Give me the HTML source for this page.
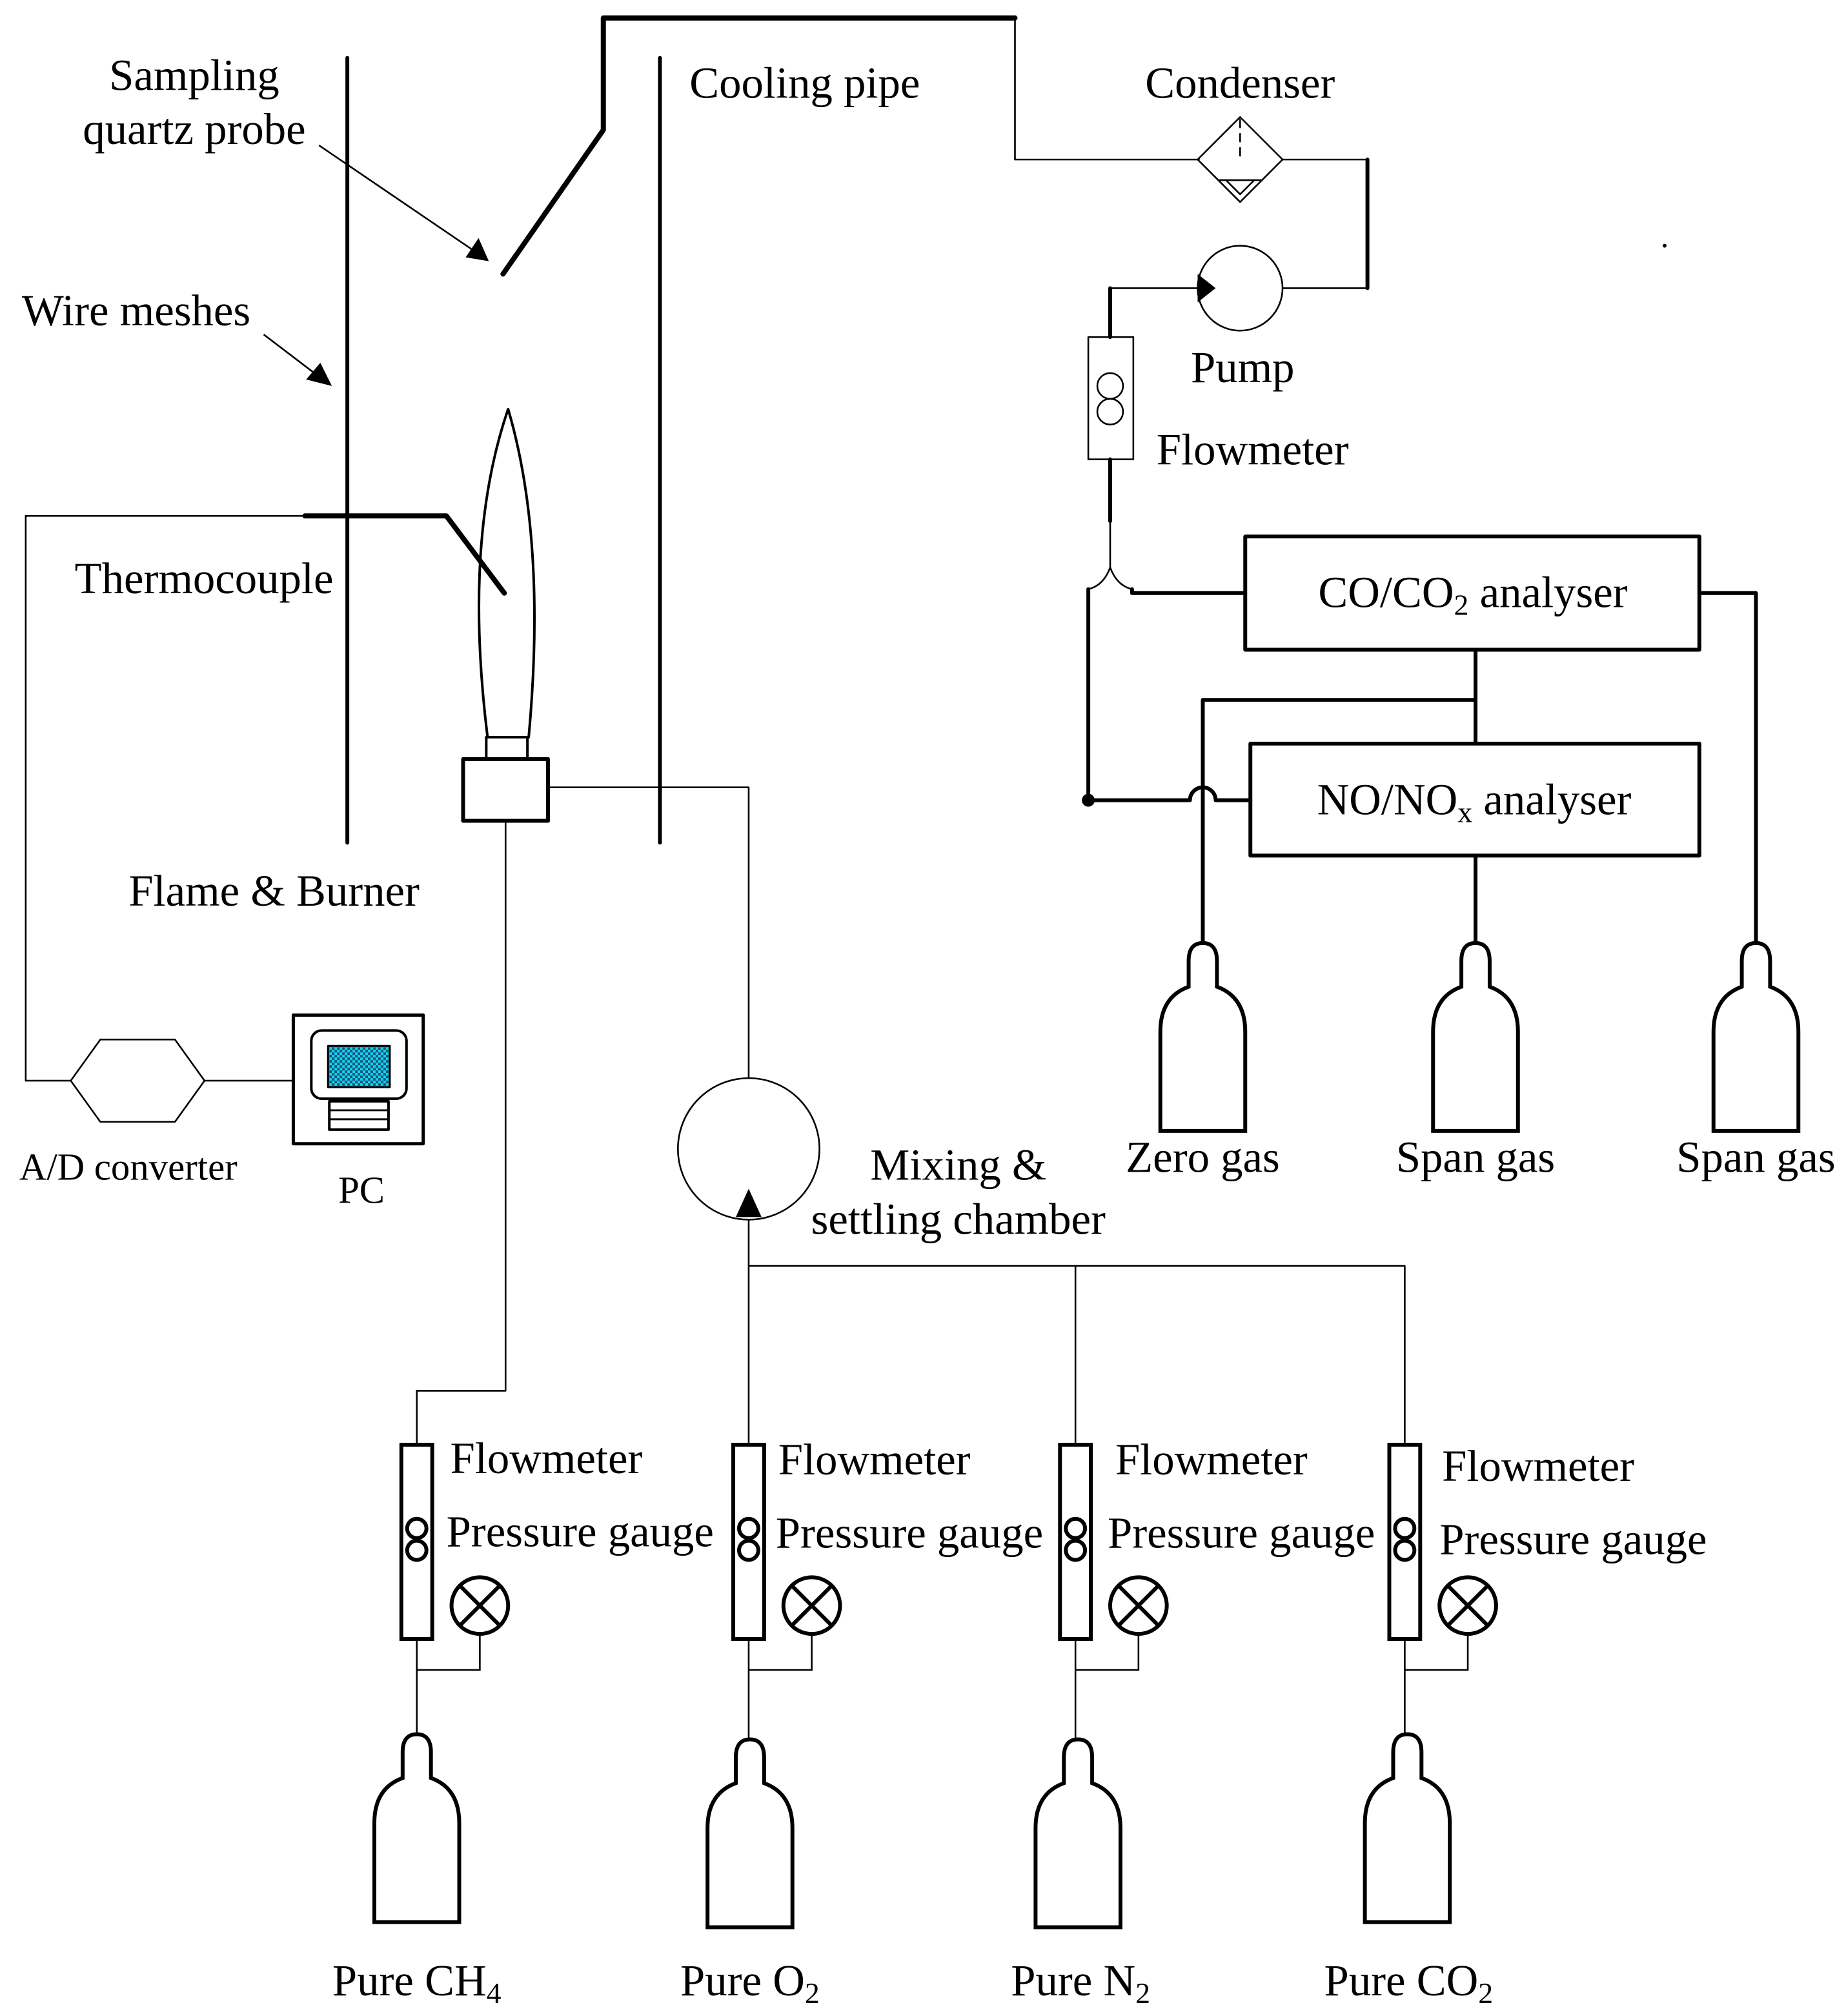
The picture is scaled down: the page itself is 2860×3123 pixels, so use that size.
<!DOCTYPE html>
<html><head><meta charset="utf-8"><style>
html,body{margin:0;padding:0;background:#fff}
svg{display:block}
text{font-family:"Liberation Serif",serif;fill:#000}
</style></head><body>
<svg width="2860" height="3123" viewBox="0 0 1435 1567" preserveAspectRatio="none" xmlns="http://www.w3.org/2000/svg">
<defs>
<pattern id="chk" width="4" height="4" patternUnits="userSpaceOnUse"><rect width="4" height="4" fill="#00e0e0"/><rect width="2" height="2" fill="#2a4a8a"/><rect x="2" y="2" width="2" height="2" fill="#2a4a8a"/></pattern>
<g id="bottle"><path d="M-11,0 Q-11,-14 0,-14 Q11,-14 11,0 L11,20 Q33,28 33,55 L33,132 L-33,132 L-33,55 Q-33,28 -11,20 Z" fill="none" stroke="#000" stroke-width="3"/></g>
<g id="fm"><rect x="-12" y="0" width="24" height="151" fill="none" stroke="#000" stroke-width="3"/><circle cx="0" cy="65" r="7.5" fill="none" stroke="#000" stroke-width="3"/><circle cx="0" cy="82" r="7.5" fill="none" stroke="#000" stroke-width="3"/></g>
<g id="pg"><circle r="22" fill="none" stroke="#000" stroke-width="3"/><path d="M-15,-15 L15,15 M15,-15 L-15,15" stroke="#000" stroke-width="3"/></g>
</defs>
<g fill="none" stroke="#000" stroke-linecap="round" stroke-linejoin="round">
<line x1="270" y1="45" x2="270" y2="655" stroke-width="3"/>
<line x1="513" y1="45" x2="513" y2="655" stroke-width="3"/>
<polyline points="391,213 469,101 469,14 789,14" stroke-width="4"/>
<polyline points="789,14 789,124 932,124" stroke-width="1.3"/>
<polygon points="964,91 997,124 964,157 931,124" stroke-width="1.3"/>
<line x1="964" y1="93" x2="964" y2="121" stroke-width="1.3" stroke-dasharray="6,5"/>
<polyline points="948,140 980,140" stroke-width="1.3"/>
<polyline points="953,140 964,151 975,140" stroke-width="1.3"/>
<line x1="997" y1="124" x2="1063" y2="124" stroke-width="1.3"/>
<line x1="1063" y1="124" x2="1063" y2="224" stroke-width="3"/>
<line x1="1063" y1="224" x2="997" y2="224" stroke-width="1.3"/>
<circle cx="964" cy="224" r="33" stroke-width="1.3"/>
<line x1="931" y1="224" x2="863" y2="224" stroke-width="1.3"/>
<line x1="863" y1="224" x2="863" y2="262" stroke-width="3"/>
<rect x="846" y="262" width="35" height="95" stroke-width="1.3"/>
<circle cx="863" cy="300" r="10" stroke-width="1.3"/>
<circle cx="863" cy="320" r="10" stroke-width="1.3"/>
<line x1="863" y1="357" x2="863" y2="405" stroke-width="3"/>
<line x1="863" y1="405" x2="863" y2="441" stroke-width="1.3"/>
<path d="M863,441 Q858,455 846,458" stroke-width="1.3"/>
<path d="M863,441 Q868,455 880,458" stroke-width="1.3"/>
<polyline points="880,458 880,461 968,461" stroke-width="3"/>
<line x1="846" y1="458" x2="846" y2="622" stroke-width="3"/>
<rect x="968" y="417" width="353" height="88" stroke-width="3"/>
<polyline points="1321,461 1365,461 1365,733" stroke-width="3"/>
<line x1="1147" y1="505" x2="1147" y2="578" stroke-width="3"/>
<polyline points="1147,544 935,544 935,733" stroke-width="3"/>
<path d="M846,622 L925,622 A10,10 0 0 1 945,622 L972,622" stroke-width="3"/>
<rect x="972" y="578" width="349" height="87" stroke-width="3"/>
<line x1="1147" y1="665" x2="1147" y2="733" stroke-width="3"/>
<polyline points="20,401 237,401" stroke-width="1.3"/>
<polyline points="237,401 347,401 392,461" stroke-width="4"/>
<polyline points="20,401 20,840 55,840" stroke-width="1.3"/>
<polygon points="55,840 78,808 136,808 159,840 136,872 78,872" stroke-width="1.3"/>
<line x1="159" y1="840" x2="228" y2="840" stroke-width="1.3"/>
<rect x="228" y="789" width="101" height="100" stroke-width="2.5"/>
<rect x="242" y="801" width="74" height="53" rx="8" stroke-width="2"/>
<rect x="255" y="813" width="48" height="32" fill="url(#chk)" stroke-width="1.5"/>
<rect x="256" y="856" width="46" height="22" stroke-width="2"/>
<line x1="256" y1="863" x2="302" y2="863" stroke-width="1.5"/>
<line x1="256" y1="870" x2="302" y2="870" stroke-width="1.5"/>
<path d="M379,573 Q360,420 395,318 Q425,420 411,573" stroke-width="2"/>
<rect x="378" y="573" width="32" height="17" stroke-width="2"/>
<rect x="360" y="590" width="66" height="48" stroke-width="3"/>
<polyline points="426,612 582,612 582,838" stroke-width="1.3"/>
<circle cx="582" cy="893" r="55" stroke-width="1.3"/>
<polyline points="393,638 393,1081 324,1081 324,1123" stroke-width="1.3"/>
<line x1="582" y1="948" x2="582" y2="1123" stroke-width="1.3"/>
<polyline points="582,984 1092,984 1092,1123" stroke-width="1.3"/>
<line x1="836" y1="984" x2="836" y2="1123" stroke-width="1.3"/>
</g>
<polygon points="380,203 362,200 372,185" fill="#000"/>
<line x1="248" y1="113" x2="370" y2="196" stroke="#000" stroke-width="1.3"/>
<polygon points="258,300 238,295 249,282" fill="#000"/>
<line x1="205" y1="260" x2="247" y2="292" stroke="#000" stroke-width="1.3"/>
<polygon points="931,213 931,235 945,224" fill="#000"/>
<polygon points="582,924 572,946 592,946" fill="#000"/>
<circle cx="846" cy="622" r="5" fill="#000"/>
<circle cx="1294" cy="191" r="1.5" fill="#000"/>
<use href="#bottle" x="935" y="747"/>
<use href="#bottle" x="1147" y="747"/>
<use href="#bottle" x="1365" y="747"/>
<use href="#bottle" x="324" y="1362"/>
<use href="#bottle" x="583" y="1366"/>
<use href="#bottle" x="838" y="1366"/>
<use href="#bottle" x="1094" y="1362"/>
<g fill="none" stroke="#000" stroke-width="1.3">
<polyline points="373,1270 373,1298 324,1298"/><line x1="324" y1="1274" x2="324" y2="1348"/>
<polyline points="631,1270 631,1298 582,1298"/><line x1="582" y1="1274" x2="582" y2="1352"/>
<polyline points="885,1270 885,1298 836,1298"/><line x1="836" y1="1274" x2="836" y2="1352"/>
<polyline points="1141,1270 1141,1298 1092,1298"/><line x1="1092" y1="1274" x2="1092" y2="1348"/>
</g>
<use href="#fm" x="324" y="1123"/><use href="#fm" x="582" y="1123"/><use href="#fm" x="836" y="1123"/><use href="#fm" x="1092" y="1123"/>
<use href="#pg" x="373" y="1248"/><use href="#pg" x="631" y="1248"/><use href="#pg" x="885" y="1248"/><use href="#pg" x="1141" y="1248"/>
<g font-size="34.5">
<text x="151" y="70" text-anchor="middle">Sampling</text>
<text x="151" y="112" text-anchor="middle">quartz probe</text>
<text x="17" y="253">Wire meshes</text>
<text x="536" y="76">Cooling pipe</text>
<text x="964" y="76" text-anchor="middle">Condenser</text>
<text x="966" y="297" text-anchor="middle">Pump</text>
<text x="899" y="361">Flowmeter</text>
<text x="58" y="461">Thermocouple</text>
<text x="100" y="704">Flame &amp; Burner</text>
<text x="1145" y="472" text-anchor="middle">CO/CO<tspan font-size="23" dy="6">2</tspan><tspan dy="-6"> analyser</tspan></text>
<text x="1146" y="633" text-anchor="middle">NO/NO<tspan font-size="23" dy="6">x</tspan><tspan dy="-6"> analyser</tspan></text>
<text x="935" y="911" text-anchor="middle">Zero gas</text>
<text x="1147" y="911" text-anchor="middle">Span gas</text>
<text x="1365" y="911" text-anchor="middle">Span gas</text>
<text x="745" y="917" text-anchor="middle">Mixing &amp;</text>
<text x="745" y="959" text-anchor="middle">settling chamber</text>
<text x="350" y="1145">Flowmeter</text><text x="347" y="1202">Pressure gauge</text>
<text x="605" y="1146">Flowmeter</text><text x="603" y="1203">Pressure gauge</text>
<text x="867" y="1146">Flowmeter</text><text x="861" y="1203">Pressure gauge</text>
<text x="1121" y="1151">Flowmeter</text><text x="1119" y="1208">Pressure gauge</text>
<text x="324" y="1551" text-anchor="middle">Pure CH<tspan font-size="23" dy="6">4</tspan></text>
<text x="583" y="1551" text-anchor="middle">Pure O<tspan font-size="23" dy="6">2</tspan></text>
<text x="840" y="1551" text-anchor="middle">Pure N<tspan font-size="23" dy="6">2</tspan></text>
<text x="1095" y="1551" text-anchor="middle">Pure CO<tspan font-size="23" dy="6">2</tspan></text>
</g>
<text x="15" y="917" font-size="29.5">A/D converter</text>
<text x="281" y="935" font-size="29.5" text-anchor="middle">PC</text>
</svg>
</body></html>
